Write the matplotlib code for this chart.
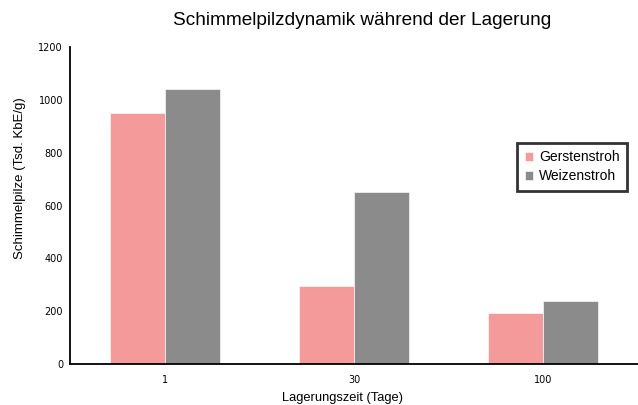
import matplotlib
matplotlib.use('Agg')
import matplotlib.pyplot as plt
import numpy as np

categories = ['1', '30', '100']
gerstenstroh = [950, 295, 195]
weizenstroh = [1040, 650, 240]
series_names = ['Gerstenstroh', 'Weizenstroh']
colors = ['#F49A9B', '#8B8B8B']

plt.rcParams['font.family'] = 'Liberation Sans'

fig = plt.figure(figsize=(6.38, 4.05), dpi=100)
ax = fig.add_axes([0.1097, 0.101, 0.8903, 0.783])

x = np.arange(len(categories))
w = 0.29
ax.bar(x - w / 2, gerstenstroh, w, color=colors[0], edgecolor='#f8f0f0', linewidth=0.6, label=series_names[0])
ax.bar(x + w / 2, weizenstroh, w, color=colors[1], edgecolor='#eeeeee', linewidth=0.6, label=series_names[1])

ax.set_xlim(-0.5, 2.5)
ax.set_ylim(0, 1200)
ax.set_yticks(range(0, 1201, 200))
ax.set_xticks(x)
ax.set_xticklabels(categories)
for lab in ax.get_xticklabels() + ax.get_yticklabels():
    lab.set_family('Liberation Sans Narrow')
    lab.set_fontsize(7)
ax.tick_params(axis='both', length=0, pad=8)
ax.tick_params(axis='y', pad=5)

for s in ['top', 'right']:
    ax.spines[s].set_visible(False)
ax.spines['left'].set_linewidth(1.3)
ax.spines['bottom'].set_linewidth(1.3)

ax.set_ylabel('Schimmelpilze (Tsd. KbE/g)', fontsize=9.5)
ax.yaxis.set_label_coords(-0.078, 0.587)
ax.set_xlabel('Lagerungszeit (Tage)', fontsize=9.3)
ax.xaxis.set_label_coords(0.48, -0.088)
fig.text(0.567, 0.95, 'Schimmelpilzdynamik während der Lagerung', ha='center', va='center', fontsize=13.7)

leg = ax.legend(loc='upper right', bbox_to_anchor=(0.993, 0.72), fontsize=10, frameon=True,
                fancybox=False, handlelength=0.6, handleheight=0.6, handletextpad=0.4,
                borderpad=0.55, labelspacing=0.35)
leg.get_frame().set_edgecolor('black')
leg.get_frame().set_linewidth(2)

fig.savefig('out.png', dpi=100)
